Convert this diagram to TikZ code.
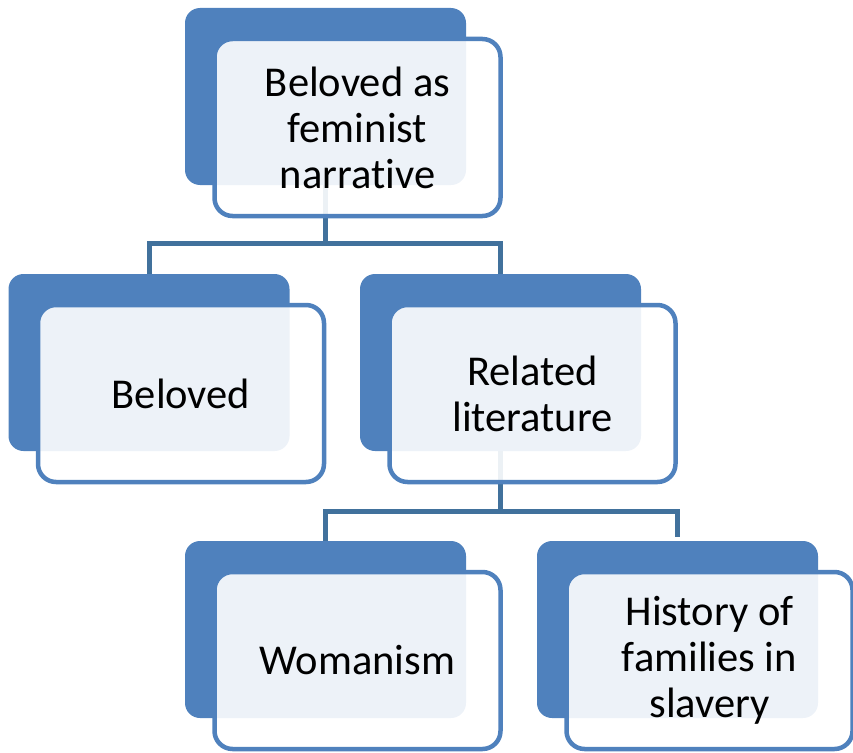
\documentclass[tikz,border=0pt]{standalone}
\usepackage{fontspec}
\setmainfont{Carlito}[Ligatures=NoCommon]
\usetikzlibrary{positioning}

\definecolor{accent}{HTML}{4F81BD}
\definecolor{linkblue}{HTML}{41719C}

\tikzset{
	back/.style={fill=accent, rounded corners=15pt, minimum width=281pt, minimum height=177pt, inner sep=0pt},
	front/.style={draw=accent, line width=4.5pt, fill=white, fill opacity=0.9, text opacity=1, rounded corners=18pt,
		minimum width=286pt, minimum height=177pt, inner sep=0pt, align=center, font=\fontsize{42.5}{46}\selectfont},
	link/.style={draw=linkblue, line width=5pt, shorten >=4pt}
}

\begin{document}
\begin{tikzpicture}[x=1pt,y=-1pt]
	\useasboundingbox (0,0) rectangle (853,752);
	% back boxes
	\node[back] (topb) at (325.5,96.5) {};
	\node[back] (belb) at (149,362.5) {};
	\node[back] (relb) at (500.5,362.5) {};
	\node[back] (womb) at (325.5,629.5) {};
	\node[back] (hisb) at (677.5,629.5) {};
	% connectors
	\path[link]
	(topb.south) -- ++(0,58) -| (belb.north)
	(topb.south) -- ++(0,58) -| (relb.north)
	(relb.south) -- ++(0,60) -| (womb.north)
	(relb.south) -- ++(0,60) -| (hisb.north);
	% front boxes
	\node[front] (top) at ([shift={(32,31)}]topb.center) {Beloved as\\feminist\\narrative};
	\node[front] (bel) at ([shift={(32,31)}]belb.center) {Beloved};
	\node[front] (rel) at ([shift={(32,31)}]relb.center) {Related\\literature};
	\node[front] (wom) at ([shift={(32,31)}]womb.center) {Womanism};
	\node[front] (his) at ([shift={(32,31)}]hisb.center) {History of\\families in\\slavery};
\end{tikzpicture}
\end{document}
